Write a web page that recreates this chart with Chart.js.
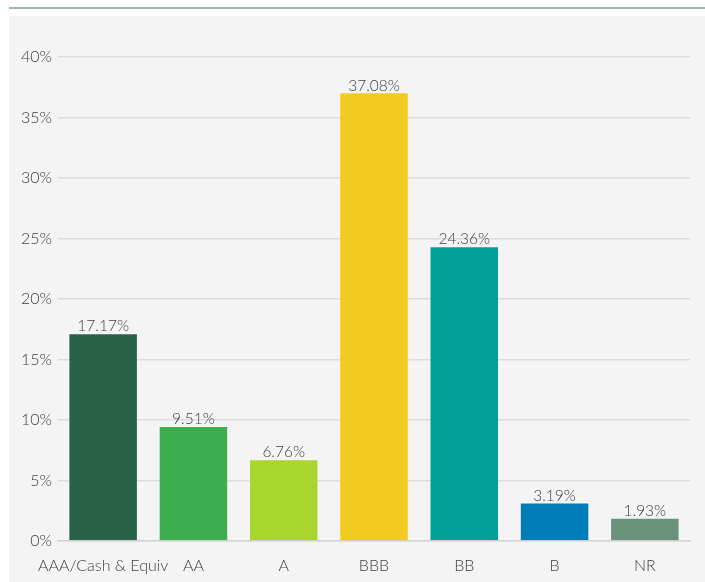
<!DOCTYPE html>
<html lang="en">
<head>
  <meta charset="UTF-8">
  <script src="https://cdn.jsdelivr.net/npm/chart.js@4.4.0/dist/chart.umd.min.js"></script>
  <title>Credit Quality</title>
  <style>
    html, body { margin: 0; padding: 0; background: #fff; }
    .topline {
      position: absolute; left: 9px; top: 7px; width: 696px; height: 2px;
      background: #9dbba8;
    }
    .panel {
      position: absolute; left: 9px; top: 16px; width: 696px; height: 566px;
      background: #f4f4f4; overflow: hidden;
    }
    .panel canvas { display: block; }
  </style>
</head>
<body>
  <div class="topline"></div>
  <div class="panel">
    <canvas id="myChart" width="696" height="566"></canvas>
  </div>

<script>
  // dati del grafico
  var categories = ['AAA/Cash & Equiv', 'AA', 'A', 'BBB', 'BB', 'B', 'NR'];
  var values = [17.17, 9.51, 6.76, 37.08, 24.36, 3.19, 1.93];
  var barColors = ['#2a6249', '#3cae4e', '#a8d52e', '#f2cb22', '#00a099', '#007cb8', '#6a927a'];
  var yTicks = [0, 5, 10, 15, 20, 25, 30, 35, 40];

  var textColor = '#404040';
  var fontFamily = 'Lato, "Open Sans", sans-serif';

  /* etichette sopra le barre */
  var barLabels = {
    id: 'barLabels',
    afterDatasetsDraw(chart) {
      var ctx = chart.ctx;
      var meta = chart.getDatasetMeta(0);
      ctx.save();
      ctx.font = '300 15.5px ' + fontFamily;
      ctx.fillStyle = textColor;
      ctx.textAlign = 'center';
      ctx.textBaseline = 'bottom';
      meta.data.forEach(function (bar, i) {
        ctx.fillText(values[i].toFixed(2) + '%', bar.x, bar.y + 1);
      });
      ctx.restore();
    }
  };

  var ctx = document.getElementById('myChart').getContext('2d');
  var myChart = new Chart(ctx, {
    type: 'bar',
    data: {
      labels: categories,
      datasets: [{
        data: values,
        backgroundColor: barColors,
        borderColor: 'rgba(255,255,255,0.25)',
        borderWidth: 1,
        barPercentage: 0.77,
        categoryPercentage: 1
      }]
    },
    options: {
      responsive: false,
      animation: false,
      layout: { padding: { top: 41, right: 15, bottom: 0, left: 0 } },
      plugins: {
        legend: { display: false },
        tooltip: { enabled: false }
      },
      scales: {
        x: {
          afterFit(scale) { scale.height = 41; },
          grid: { display: false, drawTicks: false },
          border: { color: '#d4d4d4', width: 1.5 },
          ticks: {
            color: textColor,
            font: { family: fontFamily, size: 16, weight: 300 },
            padding: 15,
            autoSkip: false,
            maxRotation: 0
          }
        },
        y: {
          min: 0,
          max: 40,
          afterBuildTicks(scale) {
            scale.ticks = yTicks.map(function (v) { return { value: v }; });
          },
          afterFit(scale) { scale.width = 49; },
          grid: { color: '#dcdcdc', lineWidth: 1.5, drawTicks: false },
          border: { display: false },
          ticks: {
            color: textColor,
            font: { family: fontFamily, size: 16, weight: 300 },
            padding: 6,
            callback: function (v) { return v + '%'; }
          }
        }
      }
    },
    plugins: [barLabels]
  });
</script>
</body>
</html>
